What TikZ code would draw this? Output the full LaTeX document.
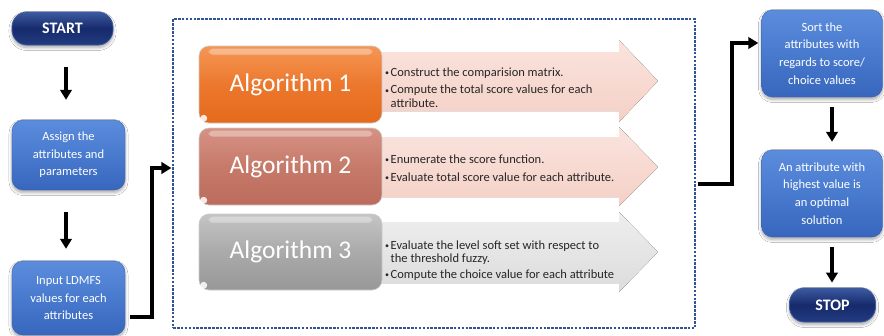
\documentclass[tikz,border=0pt]{standalone}
\usepackage{fontspec}
\setmainfont{Carlito}
\usetikzlibrary{arrows.meta,shadows.blur,calc}

\definecolor{bluetop}{RGB}{92,140,220}
\definecolor{bluemid}{RGB}{72,122,206}
\definecolor{bluebot}{RGB}{56,102,190}
\definecolor{bluedraw}{RGB}{58,98,178}
\definecolor{navytop}{RGB}{60,90,160}
\definecolor{navymid}{RGB}{22,42,108}
\definecolor{navybot}{RGB}{34,60,128}
\definecolor{orgtop}{RGB}{245,150,85}
\definecolor{orgmid}{RGB}{236,120,45}
\definecolor{orgbot}{RGB}{228,106,28}
\definecolor{rsttop}{RGB}{214,146,132}
\definecolor{rstmid}{RGB}{198,122,106}
\definecolor{rstbot}{RGB}{188,108,92}
\definecolor{grytop}{RGB}{196,196,196}
\definecolor{grymid}{RGB}{170,170,170}
\definecolor{grybot}{RGB}{152,152,152}
\definecolor{pinktop}{RGB}{250,228,222}
\definecolor{pinkbot}{RGB}{244,208,198}
\definecolor{lgtop}{RGB}{238,238,238}
\definecolor{lgbot}{RGB}{220,220,220}
\definecolor{framecol}{RGB}{50,84,150}

\tikzset{
  softshadow/.style={blur shadow={shadow blur steps=6,shadow xshift=0pt,shadow yshift=-2.5pt,shadow opacity=35,shadow blur radius=3pt}},
  bluebox/.style={rounded corners=11pt, draw=bluedraw, line width=0.4pt,
    top color=bluetop, bottom color=bluebot, middle color=bluemid, softshadow,
    text=white, align=center, font=\fontsize{12.5}{17.6}\selectfont, inner sep=0pt},
  pill/.style={rounded corners=15pt, draw=navytop, line width=0.8pt,
    top color=navytop, bottom color=navybot, middle color=navymid, softshadow,
    text=white, font=\bfseries\fontsize{16}{18}\selectfont, inner sep=0pt},
  algbox/.style={rounded corners=10pt, line width=0.6pt, draw=white!80!black,
    text=white, font=\fontsize{25.5}{30}\selectfont, inner sep=0pt,
    minimum width=183pt},
  bultext/.style={anchor=west, inner sep=0pt, font=\fontsize{12.5}{13.6}\selectfont, text=black!85},
  conn/.style={line width=3.6pt, -{Triangle[length=10pt,width=11.5pt]}},
  elbow/.style={line width=3.6pt, -{Triangle[length=10pt,width=11.5pt]}},
}
\newcommand{\bitem}{\makebox[5.5pt][l]{\raisebox{0.5pt}{\fontsize{8}{8}\selectfont\textbullet}}}

\begin{document}
\begin{tikzpicture}[x=1pt,y=-1pt]
\useasboundingbox[fill=white] (0,0) rectangle (884,335);

% dashed frame
\node[draw=framecol, line width=1.2pt, dash pattern=on 2.6pt off 1.3pt,
      minimum width=522pt, minimum height=309pt, inner sep=0pt] (frame) at (434,173.5) {};

% big arrows
\fill[top color=pinktop, bottom color=pinkbot]
  (375,52) -- (619,52) -- (619,40) -- (658,81) -- (619,122) -- (619,111) -- (375,111) -- cycle;
\fill[top color=pinktop, bottom color=pinkbot]
  (375,137) -- (619,137) -- (619,127) -- (658,167) -- (619,206) -- (619,197) -- (375,197) -- cycle;
\fill[top color=lgtop, bottom color=lgbot]
  (375,222) -- (619,222) -- (619,212) -- (658,252) -- (619,292) -- (619,283) -- (375,283) -- cycle;

% algorithm boxes
\node[algbox, minimum height=77pt, top color=orgtop, bottom color=orgbot, middle color=orgmid] (alg1) at (290.5,84.5) {Algorithm 1};
\node[algbox, minimum height=77pt, top color=rsttop, bottom color=rstbot, middle color=rstmid] (alg2) at (290.5,166.5) {Algorithm 2};
\node[algbox, minimum height=76pt, top color=grytop, bottom color=grybot, middle color=grymid] (alg3) at (290.5,252) {Algorithm 3};
\foreach \n in {alg1,alg2,alg3}{
  \fill[white, opacity=0.35, rounded corners=4pt] ([xshift=10pt,yshift=-3pt]\n.north west) rectangle ([xshift=-10pt,yshift=-9pt]\n.north east);
  \fill[white, opacity=0.85] ([xshift=5pt,yshift=5pt]\n.south west) circle (3.5pt);
}

% bullet texts
\node[bultext] (b1) at (385,89) {\begin{tabular}{@{}l@{}l@{}}
\bitem & Construct the comparision matrix.\\[4pt]
\bitem & Compute the total score values for each\\
 & attribute.
\end{tabular}};
\node[bultext] (b2) at (385,169.5) {\begin{tabular}{@{}l@{}l@{}}
\bitem & Enumerate the score function.\\[4pt]
\bitem & Evaluate total score value for each attribute.
\end{tabular}};
\node[bultext] (b3) at (385,261) {\begin{tabular}{@{}l@{}l@{}}
\bitem & Evaluate the level soft set with respect to\\
 & the threshold fuzzy.\\[2pt]
\bitem & Compute the choice value for each attribute
\end{tabular}};

% left column
\node[pill, minimum width=101pt, minimum height=33pt] (start) at (62.5,28.5) {START};
\node[bluebox, minimum width=113pt, minimum height=70pt] (assign) at (68.5,155) {Assign the\\attributes and\\parameters};
\node[bluebox, minimum width=113pt, minimum height=74pt] (input) at (68.5,298) {Input LDMFS\\values for each\\attributes};

% right column
\node[bluebox, minimum width=121pt, minimum height=87pt] (sort) at (822,53.5) {Sort the\\attributes with\\regards to score/\\choice values};
\node[bluebox, minimum width=121pt, minimum height=87pt] (attr) at (822,193.5) {An attribute with\\highest value is\\an optimal\\solution};
\node[pill, minimum width=86pt, minimum height=34pt] (stop) at (832.5,305) {STOP};

% vertical arrows
\draw[conn, shorten <=22pt, shorten >=20pt] ([xshift=3.5pt]start.south) -- ([xshift=-2.5pt]assign.north);
\draw[conn, shorten <=22pt, shorten >=12pt] ([xshift=-2.5pt]assign.south) -- ([xshift=-2.5pt]input.north);
\draw[conn, shorten <=10pt, shorten >=8pt] ([xshift=10pt]sort.south) -- ([xshift=10pt]attr.north);
\draw[conn, shorten <=10pt, shorten >=5pt] ([xshift=10pt]attr.south) -- ([xshift=-0.5pt]stop.north);

% elbow connectors
\coordinate (j1) at (152,317);
\coordinate (j2) at (152,168);
\draw[elbow] ([xshift=5pt]input.east |- j1) -- (j1) -- (j2) -- ([xshift=-1pt]frame.west |- j2);
\coordinate (j3) at (732,184);
\coordinate (j4) at (732,43);
\draw[elbow] ([xshift=2pt]frame.east |- j3) -- (j3) -- (j4) -- ([xshift=-3pt]sort.west |- j4);
\end{tikzpicture}
\end{document}
